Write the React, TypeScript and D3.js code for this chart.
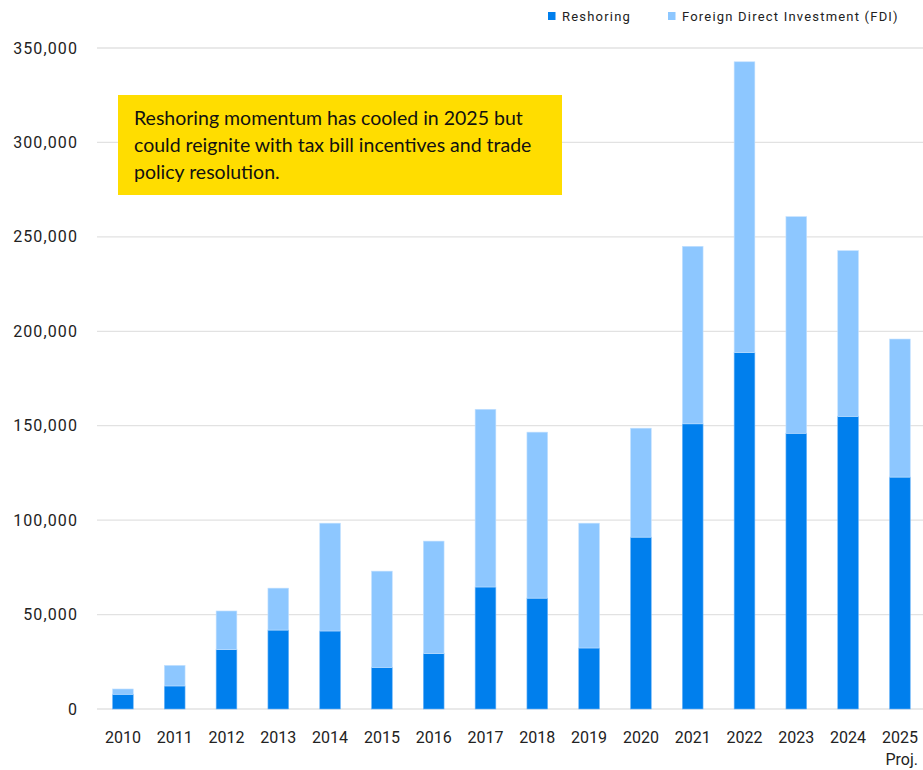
import React from "react";
import * as d3 from "d3";

const years = ["2010","2011","2012","2013","2014","2015","2016","2017","2018","2019","2020","2021","2022","2023","2024","2025"];
const reshoring = [7800,12200,31400,41800,41300,22000,29300,64600,58700,32300,91000,151000,188700,146000,154900,122800];
const fdi = [2800,10900,20500,22200,57100,51000,59600,94100,87900,66100,57700,94000,154000,114700,87800,73100];
const yTicks = [0,50000,100000,150000,200000,250000,300000,350000];
const seriesNames = ["Reshoring","Foreign Direct Investment (FDI)"];
const colors = ["#007FED","#8DC7FF"];
const noteLines = [
  "Reshoring momentum has cooled in 2025 but",
  "could reignite with tax bill incentives and trade",
  "policy resolution.",
];

export default function App() {
  const W = 923, H = 770;
  const x = d3.scaleBand<string>().domain(years).range([97, 925.8]).paddingInner(0.6).paddingOuter(0.3);
  const y = d3.scaleLinear().domain([0, 350000]).range([709, 48]);
  const fmt = d3.format(",");
  const axisFont = "Roboto, 'DejaVu Sans', sans-serif";
  return (
    <svg width={W} height={H} style={{ position: "absolute", left: 0, top: 0 }}>
      <rect width={W} height={H} fill="#fff" />
      {yTicks.map((t) => (
        <g key={t}>
          <line x1={97} x2={923} y1={y(t)} y2={y(t)} stroke="#E2E2E2" strokeWidth={1.3} />
          <text x={78} y={y(t)} dy="0.35em" textAnchor="end" fontFamily={axisFont} fontSize={16} letterSpacing={1.1} fill="#222">{fmt(t)}</text>
        </g>
      ))}
      {years.map((yr, i) => {
        const x0 = x(yr)!;
        const bw = x.bandwidth();
        const r = reshoring[i];
        const f = fdi[i];
        return (
          <g key={yr}>
            <rect x={x0} y={y(r)} width={bw} height={y(0) - y(r)} fill={colors[0]} stroke="#6FB6FA" strokeWidth={0.6} />
            <rect x={x0} y={y(r + f)} width={bw} height={y(r) - y(r + f)} fill={colors[1]} stroke="#C3E1FF" strokeWidth={0.6} />
            <text x={x0 + bw / 2} y={737} dy="0.35em" textAnchor="middle" fontFamily={axisFont} fontSize={16} fill="#222">{yr}</text>
          </g>
        );
      })}
      <text x={918} y={759} dy="0.35em" textAnchor="end" fontFamily={axisFont} fontSize={16} fill="#222">Proj.</text>
      {/* legend */}
      <rect x={548} y={12} width={7.5} height={8} fill={colors[0]} />
      <text x={562} y={16} dy="0.35em" fontFamily={axisFont} fontSize={13} letterSpacing={1.2} fill="#222">{seriesNames[0]}</text>
      <rect x={668} y={12} width={7.5} height={8} fill={colors[1]} />
      <text x={682} y={16} dy="0.35em" fontFamily={axisFont} fontSize={13} letterSpacing={1.2} fill="#222">{seriesNames[1]}</text>
      {/* annotation */}
      <rect x={118} y={95} width={444} height={100} fill="#FFDD00" />
      {noteLines.map((l, i) => (
        <text key={i} x={134} y={118 + i * 27} dy="0.35em" fontFamily="Lato, 'Open Sans', sans-serif" fontSize={19.5} fill="#111">{l}</text>
      ))}
    </svg>
  );
}
